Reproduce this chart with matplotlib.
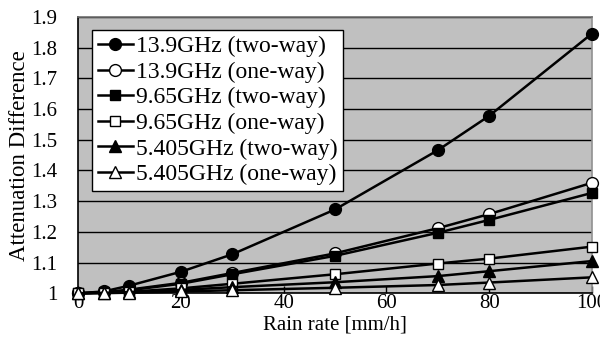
import matplotlib
matplotlib.use("Agg")
import matplotlib.pyplot as plt

plt.rcParams['font.family'] = ['Liberation Serif', 'DejaVu Serif']

rain_rate = [0, 5, 10, 20, 30, 50, 70, 80, 100]
ku_two_way = [1.0, 1.006, 1.025, 1.070, 1.127, 1.273, 1.466, 1.578, 1.846]
ku_one_way = [1.0, 1.003, 1.012, 1.034, 1.066, 1.130, 1.212, 1.258, 1.360]
x_two_way = [1.0, 1.003, 1.010, 1.031, 1.062, 1.122, 1.197, 1.239, 1.327]
x_one_way = [1.0, 1.002, 1.005, 1.016, 1.031, 1.062, 1.097, 1.113, 1.152]
c_two_way = [1.0, 1.001, 1.004, 1.011, 1.020, 1.036, 1.056, 1.072, 1.105]
c_one_way = [1.0, 1.0005, 1.002, 1.006, 1.010, 1.018, 1.027, 1.035, 1.052]

labels = ["13.9GHz (two-way)", "13.9GHz (one-way)", "9.65GHz (two-way)",
          "9.65GHz (one-way)", "5.405GHz (two-way)", "5.405GHz (one-way)"]
series = [ku_two_way, ku_one_way, x_two_way, x_one_way, c_two_way, c_one_way]
markers = ['o', 'o', 's', 's', '^', '^']
faces = ['black', 'white', 'black', 'white', 'black', 'white']
sizes = [8.5, 8.5, 7.5, 7.5, 8.5, 8.5]

fig = plt.figure(figsize=(6.0, 3.42), dpi=100)
ax = fig.add_axes([0.13, 0.1424, 0.8567, 0.808])
ax.set_facecolor('#c0c0c0')

for ys, lab, m, fc, ms in zip(series, labels, markers, faces, sizes):
    ax.plot(rain_rate, ys, color='black', lw=1.8, marker=m, markersize=ms,
            markerfacecolor=fc, markeredgecolor='black', markeredgewidth=1.0,
            label=lab, clip_on=False, zorder=3)

ax.set_xlim(0, 100)
ax.set_ylim(1.0, 1.9)
ax.set_xticks([0, 20, 40, 60, 80, 100])
ax.set_yticks([1.0, 1.1, 1.2, 1.3, 1.4, 1.5, 1.6, 1.7, 1.8, 1.9])
ax.set_yticklabels(['1', '1.1', '1.2', '1.3', '1.4', '1.5', '1.6', '1.7', '1.8', '1.9'])
ax.yaxis.grid(True, color='black', lw=1.0)
ax.set_axisbelow(True)
ax.tick_params(axis='x', direction='in', length=5, width=1, pad=0.5, labelsize=15)
ax.tick_params(axis='y', direction='in', length=0, pad=15, labelsize=15)

ax.spines['left'].set_color('black')
ax.spines['bottom'].set_color('black')
ax.spines['top'].set_color('#707070')
ax.spines['right'].set_color('#909090')
for s in ax.spines.values():
    s.set_linewidth(1.2)

ax.set_xlabel('Rain rate [mm/h]', fontsize=15, labelpad=2)
ax.set_ylabel('Attenuation Difference', fontsize=16.5, labelpad=1)

leg = ax.legend(loc='upper left', bbox_to_anchor=(0.027, 0.953), fontsize=17,
                frameon=True, fancybox=False, framealpha=1, edgecolor='black',
                handlelength=1.5, handletextpad=0.1, borderpad=0.25,
                labelspacing=0.17, borderaxespad=0)
leg.get_frame().set_linewidth(1.0)

fig.savefig('out.png', dpi=100)
